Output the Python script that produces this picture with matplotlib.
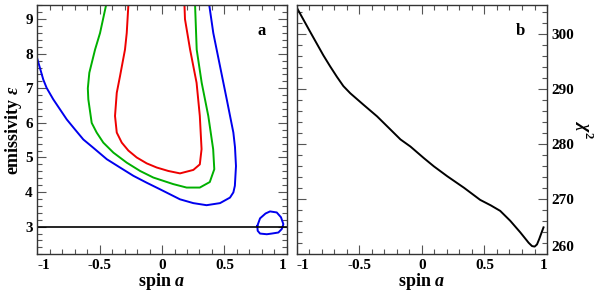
import matplotlib
matplotlib.use('Agg')
import matplotlib.pyplot as plt
from matplotlib.ticker import MultipleLocator

plt.rcParams['font.family'] = 'Liberation Serif'
plt.rcParams['font.weight'] = 'bold'
plt.rcParams['axes.labelweight'] = 'bold'
plt.rcParams['axes.unicode_minus'] = False
plt.rcParams['mathtext.fontset'] = 'custom'
plt.rcParams['mathtext.rm'] = 'Liberation Serif:bold'
plt.rcParams['mathtext.it'] = 'Liberation Serif:italic:bold'

# panel a: confidence contours in the (spin, emissivity) plane
blue_x = [-1.0, -0.952, -0.925, -0.872, -0.818, -0.764, -0.698, -0.631, -0.551, -0.443, -0.337,
          -0.230, -0.123, -0.016, 0.144, 0.251, 0.357, 0.465, 0.545, 0.572, 0.584, 0.593,
          0.585, 0.572, 0.519, 0.465, 0.411, 0.379]
blue_y = [7.85, 7.25, 7.01, 6.68, 6.39, 6.10, 5.81, 5.52, 5.28, 4.95, 4.71,
          4.47, 4.27, 4.08, 3.79, 3.68, 3.62, 3.68, 3.84, 3.99, 4.18, 4.75,
          5.30, 5.72, 6.68, 7.64, 8.60, 9.40]

blue_loop_x = [0.764, 0.786, 0.830, 0.866, 0.920, 0.954, 0.973, 0.960, 0.933, 0.880, 0.840,
               0.786, 0.767, 0.764]
blue_loop_y = [3.02, 3.24, 3.38, 3.44, 3.41, 3.27, 3.07, 2.93, 2.83, 2.80, 2.78,
               2.80, 2.88, 3.02]

green_x = [-0.449, -0.497, -0.537, -0.583, -0.595, -0.591, -0.564, -0.524, -0.471, -0.390, -0.283,
           -0.176, -0.070, 0.090, 0.197, 0.303, 0.383, 0.419, 0.410, 0.371, 0.318, 0.278, 0.265]
green_y = [9.40, 8.60, 8.12, 7.45, 7.00, 6.68, 6.00, 5.72, 5.43, 5.14, 4.85,
           4.61, 4.42, 4.23, 4.13, 4.13, 4.29, 4.66, 5.24, 6.20, 7.16, 8.12, 9.40]

red_x = [-0.270, -0.283, -0.297, -0.337, -0.363, -0.377, -0.363, -0.323, -0.270, -0.203, -0.123,
         -0.043, 0.050, 0.144, 0.251, 0.303, 0.317, 0.303, 0.277, 0.225, 0.184, 0.180]
red_y = [9.40, 8.60, 8.12, 7.35, 6.87, 6.20, 5.72, 5.43, 5.20, 5.00, 4.83,
         4.71, 4.61, 4.54, 4.64, 4.80, 5.24, 6.20, 7.16, 8.12, 9.00, 9.40]

eps_line = 3.0

# panel b: chi^2 against spin
spin = [-0.995, -0.893, -0.787, -0.733, -0.679, -0.627, -0.572, -0.466, -0.358, -0.251, -0.171,
        -0.091, 0.016, 0.096, 0.203, 0.337, 0.466, 0.551, 0.626, 0.706, 0.786, 0.839, 0.853,
        0.880, 0.901, 0.920, 0.938, 0.954, 0.972]
chi2 = [304.7, 300.5, 296.2, 294.2, 292.3, 290.6, 289.3, 287.2, 285.1, 282.7, 280.9,
        279.6, 277.5, 276.0, 274.2, 272.1, 269.9, 268.9, 267.9, 266.1, 264.0, 262.5, 262.1,
        261.5, 261.4, 261.8, 262.8, 263.8, 264.9]

x_ticks = [-1, -0.5, 0, 0.5, 1]
x_labels = ['-1', '-0.5', '0', '0.5', '1']
eps_ticks = [3, 4, 5, 6, 7, 8, 9]
chi_ticks = [260, 270, 280, 290, 300]

fig = plt.figure(figsize=(6, 2.92), dpi=100)
ax1 = fig.add_axes([0.0622, 0.1291, 0.4157, 0.8527])
ax2 = fig.add_axes([0.4945, 0.1291, 0.4172, 0.8527])


def style(ax, ymin_step):
    ax.tick_params(which='both', direction='in', top=True, right=True, color='#555555',
                   labelsize=11, width=0.8)
    ax.tick_params(which='major', length=6.5)
    ax.tick_params(which='minor', length=3.6)
    ax.tick_params(axis='x', pad=3.5)
    ax.tick_params(axis='y', pad=3.3)
    ax.xaxis.set_minor_locator(MultipleLocator(0.1))
    ax.yaxis.set_minor_locator(MultipleLocator(ymin_step))
    for s in ax.spines.values():
        s.set_color('#333333')
        s.set_linewidth(1)
    ax.set_xlim(-1, 1)
    ax.set_xticks(x_ticks)
    ax.set_xticklabels(x_labels, fontweight='bold')
    labs = ax.get_xticklabels()
    labs[0].set_ha('left')
    labs[-1].set_ha('right')
    ax.set_xlabel('spin $a$', fontsize=13, labelpad=-1)


ax1.plot(blue_x, blue_y, color='#0000ee', lw=1.4)
ax1.plot(blue_loop_x, blue_loop_y, color='#0000ee', lw=1.4)
ax1.plot(green_x, green_y, color='#00b000', lw=1.4)
ax1.plot(red_x, red_y, color='#ee0000', lw=1.4)
ax1.axhline(eps_line, color='black', lw=1.2)
style(ax1, 0.2)
ax1.set_ylim(2.2, 9.4)
ax1.set_yticks(eps_ticks)
ax1.set_yticklabels([str(t) for t in eps_ticks], fontweight='bold')
ax1.set_ylabel('emissivity $\\epsilon$', fontsize=13, labelpad=0.5)
ax1.text(0.9, 0.895, 'a', transform=ax1.transAxes, fontsize=12, fontweight='bold',
         ha='center', va='center')

ax2.plot(spin, chi2, color='black', lw=1.4)
style(ax2, 2)
ax2.set_ylim(260, 305.3)
ax2.set_yticks(chi_ticks)
ax2.set_yticklabels([str(t) for t in chi_ticks], fontweight='bold')
ax2.yaxis.tick_right()
ax2.tick_params(which='both', left=True, right=True)
ax2.yaxis.set_label_position('right')
ax2.get_yticklabels()[0].set_va('bottom')
ax2.set_ylabel('$\\chi^2$', fontsize=13, rotation=270, labelpad=15)
ax2.text(0.892, 0.895, 'b', transform=ax2.transAxes, fontsize=12, fontweight='bold',
         ha='center', va='center')

fig.savefig('out.png', dpi=100)
